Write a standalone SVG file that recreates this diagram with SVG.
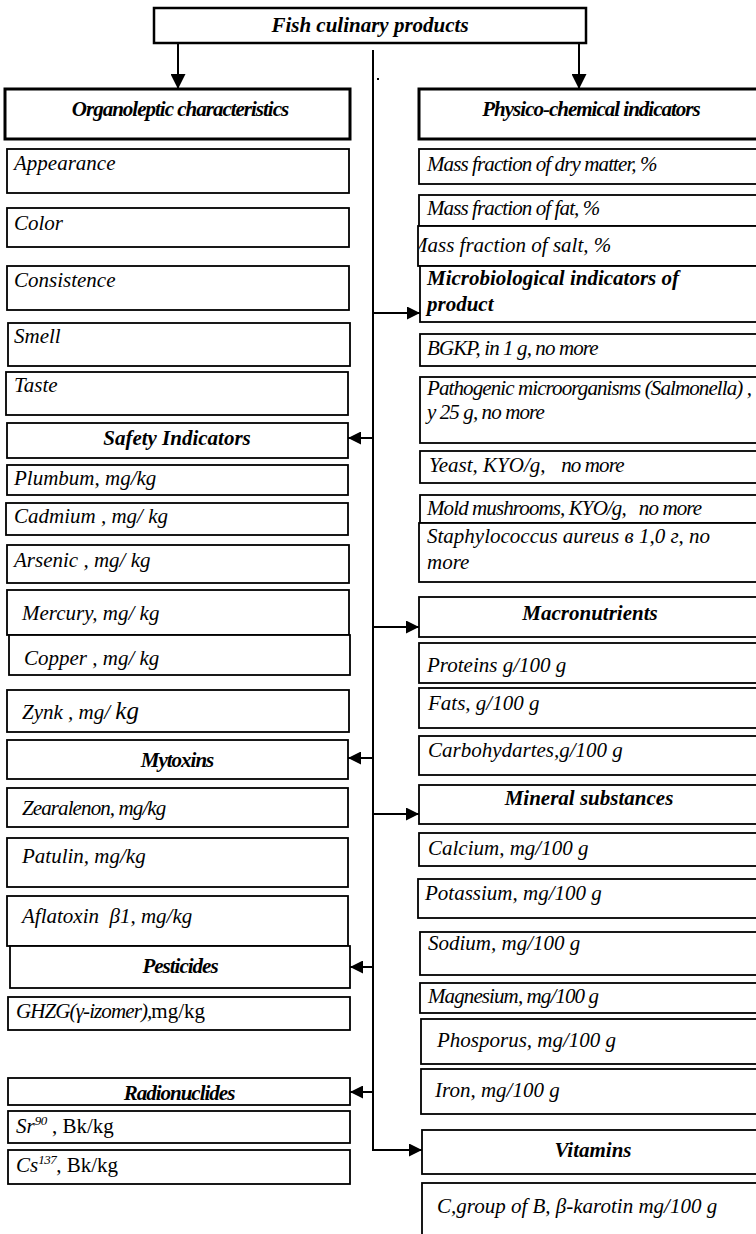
<svg xmlns="http://www.w3.org/2000/svg" width="756" height="1234" viewBox="0 0 756 1234">
  <style>
    .box { fill: #fff; stroke: #000; stroke-width: 1.8; }
    .hbox { fill: #fff; stroke: #000; stroke-width: 3; }
    .t { font-family: "Liberation Serif", "Times New Roman", serif; font-style: italic; font-size: 21px; fill: #000; }
    .b { font-weight: bold; text-anchor: middle; }
    .tight { letter-spacing: -1px; }
    .cond { letter-spacing: -0.9px; }
    .up { font-style: normal; }
    .conn { stroke: #000; stroke-width: 2; fill: none; }
    .arr { stroke: #000; stroke-width: 2; fill: none; marker-end: url(#ah); }
  </style>
  <defs>
    <marker id="ah" viewBox="0 0 10 10" refX="10" refY="5" markerWidth="15" markerHeight="13" markerUnits="userSpaceOnUse" orient="auto">
      <path d="M0,0 L10,5 L0,10 z" fill="#000"/>
    </marker>
    <marker id="ahd" viewBox="0 0 10 10" refX="10" refY="5" markerWidth="16" markerHeight="15" markerUnits="userSpaceOnUse" orient="auto">
      <path d="M0,0 L10,5 L0,10 z" fill="#000"/>
    </marker>
    <clipPath id="saltClip"><rect x="419" y="226" width="340" height="40"/></clipPath>
  </defs>

  <rect width="756" height="1234" fill="#fff"/>

  <!-- connectors -->
  <g id="connectors">
    <line class="conn" x1="178" y1="43" x2="178" y2="89" marker-end="url(#ahd)"/>
    <line class="conn" x1="579" y1="43" x2="579" y2="89" marker-end="url(#ahd)"/>
    <polyline class="conn" points="373,50 373,1150 422,1150" marker-end="url(#ah)"/>
    <line class="arr" x1="373" y1="313" x2="420" y2="313"/>
    <line class="arr" x1="373" y1="627" x2="419" y2="627"/>
    <line class="arr" x1="373" y1="814" x2="419" y2="814"/>
    <line class="arr" x1="373" y1="438" x2="348" y2="438"/>
    <line class="arr" x1="373" y1="758" x2="348" y2="758"/>
    <line class="arr" x1="373" y1="967" x2="350" y2="967"/>
    <line class="arr" x1="373" y1="1092" x2="350" y2="1092"/>
    <rect x="377" y="78" width="2" height="2" fill="#000"/>
  </g>

  <!-- root -->
  <g id="root">
    <rect class="box" x="154" y="8" width="432" height="35" style="stroke-width:2.5"/>
    <text class="t b" x="370" y="32">Fish culinary products</text>
  </g>

  <!-- left column -->
  <g id="organoleptic">
    <rect class="hbox" x="5" y="89" width="345" height="50"/>
    <text class="t b tight" x="180" y="116">Organoleptic characteristics</text>
  </g>
  <g id="appearance"><rect class="box" x="7" y="149" width="342" height="44"/><text class="t" x="14" y="170">Appearance</text></g>
  <g id="color"><rect class="box" x="7" y="208" width="342" height="39"/><text class="t" x="14" y="230">Color</text></g>
  <g id="consistence"><rect class="box" x="7" y="266" width="342" height="44"/><text class="t" x="14" y="287">Consistence</text></g>
  <g id="smell"><rect class="box" x="8" y="323" width="342" height="43"/><text class="t" x="14" y="343">Smell</text></g>
  <g id="taste"><rect class="box" x="6" y="372" width="342" height="43"/><text class="t" x="14" y="392">Taste</text></g>

  <g id="safety">
    <rect class="box" x="7" y="423" width="341" height="35"/>
    <text class="t b" x="177" y="445">Safety Indicators</text>
  </g>
  <g id="plumbum"><rect class="box" x="7" y="465" width="341" height="30"/><text class="t" x="14" y="485">Plumbum, mg/kg</text></g>
  <g id="cadmium"><rect class="box" x="6" y="503" width="342" height="32"/><text class="t" x="14" y="523">Cadmium , mg/ kg</text></g>
  <g id="arsenic"><rect class="box" x="7" y="545" width="342" height="38"/><text class="t" x="14" y="567">Arsenic , mg/ kg</text></g>
  <g id="mercury"><rect class="box" x="7" y="590" width="342" height="45"/><text class="t" x="22" y="620">Mercury, mg/ kg</text></g>
  <g id="copper"><rect class="box" x="9" y="635" width="341" height="40"/><text class="t" x="24" y="665">Copper , mg/ kg</text></g>
  <g id="zynk"><rect class="box" x="7" y="690" width="342" height="42"/><text class="t" x="22" y="719">Zynk , mg/ <tspan font-size="25">kg</tspan></text></g>

  <g id="mytoxins">
    <rect class="box" x="7" y="740" width="341" height="39"/>
    <text class="t b tight" x="177" y="767">Mytoxins</text>
  </g>
  <g id="zearalenon"><rect class="box" x="7" y="788" width="341" height="39"/><text class="t cond" x="22" y="815">Zearalenon, mg/kg</text></g>
  <g id="patulin"><rect class="box" x="7" y="838" width="341" height="49"/><text class="t" x="22" y="863">Patulin, mg/kg</text></g>
  <g id="aflatoxin"><rect class="box" x="7" y="896" width="341" height="50"/><text class="t" x="22" y="923" style="white-space:pre">Aflatoxin  β1, mg/kg</text></g>

  <g id="pesticides">
    <rect class="box" x="10" y="946" width="340" height="42"/>
    <text class="t b tight" x="180" y="973">Pesticides</text>
  </g>
  <g id="ghzg"><rect class="box" x="8" y="997" width="342" height="33"/><text class="t" x="16" y="1018"><tspan class="cond">GHZG(γ-izomer),</tspan><tspan class="up">mg/kg</tspan></text></g>

  <g id="radionuclides">
    <rect class="box" x="8" y="1078" width="342" height="27"/>
    <text class="t b tight" x="179" y="1100">Radionuclides</text>
  </g>
  <g id="sr90"><rect class="box" x="8" y="1111" width="342" height="32"/><text class="t" x="16" y="1133">Sr<tspan font-size="13" dy="-8" letter-spacing="-0.5">90</tspan><tspan class="up" dy="8"> , Bk/kg</tspan></text></g>
  <g id="cs137"><rect class="box" x="8" y="1150" width="342" height="34"/><text class="t" x="16" y="1172">Cs<tspan font-size="13" dy="-8" letter-spacing="-0.5">137</tspan><tspan class="up" dy="8">, Bk/kg</tspan></text></g>

  <!-- right column -->
  <g id="physico">
    <rect class="hbox" x="419" y="89" width="340" height="50"/>
    <text class="t b tight" x="591" y="116">Physico-chemical indicators</text>
  </g>
  <g id="dry-matter"><rect class="box" x="419" y="149" width="340" height="35"/><text class="t cond" x="427" y="171">Mass fraction of dry matter, %</text></g>
  <g id="fat"><rect class="box" x="419" y="195" width="340" height="31"/><text class="t cond" x="427" y="215">Mass fraction of fat, %</text></g>
  <g id="salt"><rect class="box" x="418" y="226" width="340" height="40"/><text class="t" x="410" y="252" clip-path="url(#saltClip)">Mass fraction of salt, %</text></g>

  <g id="microbiological">
    <rect class="box" x="420" y="266" width="340" height="56"/>
    <text class="t" font-weight="bold" x="427" y="285">Microbiological indicators of</text>
    <text class="t" font-weight="bold" x="427" y="311">product</text>
  </g>
  <g id="bgkp"><rect class="box" x="420" y="334" width="340" height="32"/><text class="t cond" x="427" y="355">BGKP, in 1 g, no more</text></g>
  <g id="pathogenic">
    <rect class="box" x="420" y="377" width="340" height="66"/>
    <text class="t cond" x="427" y="395">Pathogenic microorganisms (Salmonella) ,</text>
    <text class="t cond" x="427" y="419">у 25 g, no more</text>
  </g>
  <g id="yeast"><rect class="box" x="420" y="451" width="340" height="32"/><text class="t" x="429" y="472" style="white-space:pre">Yeast, KYO/g,   <tspan class="cond">no more</tspan></text></g>
  <g id="mold"><rect class="box" x="420" y="495" width="340" height="28"/><text class="t cond" x="427" y="515" style="white-space:pre">Mold mushrooms, KYO/g,   no more</text></g>
  <g id="staphylococcus">
    <rect class="box" x="419" y="523" width="340" height="59"/>
    <text class="t" x="427" y="543">Staphylococcus aureus в 1,0 г, no</text>
    <text class="t" x="427" y="569">more</text>
  </g>

  <g id="macronutrients">
    <rect class="box" x="419" y="597" width="340" height="40"/>
    <text class="t b" x="590" y="620">Macronutrients</text>
  </g>
  <g id="proteins"><rect class="box" x="419" y="643" width="340" height="40"/><text class="t" x="427" y="672">Proteins g/100 g</text></g>
  <g id="fats"><rect class="box" x="419" y="688" width="340" height="40"/><text class="t" x="428" y="710">Fats, g/100 g</text></g>
  <g id="carbohydrates"><rect class="box" x="419" y="736" width="340" height="39"/><text class="t" x="428" y="757">Carbohydartes,g/100 g</text></g>

  <g id="minerals">
    <rect class="box" x="419" y="785" width="340" height="39"/>
    <text class="t b" x="589" y="805">Mineral substances</text>
  </g>
  <g id="calcium"><rect class="box" x="419" y="833" width="340" height="33"/><text class="t" x="428" y="855">Calcium, mg/100 g</text></g>
  <g id="potassium"><rect class="box" x="418" y="879" width="340" height="39"/><text class="t" x="425" y="900">Potassium, mg/100 g</text></g>
  <g id="sodium"><rect class="box" x="420" y="932" width="340" height="43"/><text class="t" x="428" y="950">Sodium, mg/100 g</text></g>
  <g id="magnesium"><rect class="box" x="420" y="983" width="340" height="30"/><text class="t cond" x="428" y="1003">Magnesium, mg/100 g</text></g>
  <g id="phosphorus"><rect class="box" x="421" y="1019" width="340" height="45"/><text class="t" x="437" y="1047">Phosporus, mg/100 g</text></g>
  <g id="iron"><rect class="box" x="421" y="1069" width="340" height="45"/><text class="t" x="435" y="1097">Iron, mg/100 g</text></g>

  <g id="vitamins">
    <rect class="box" x="422" y="1130" width="340" height="44"/>
    <text class="t b" x="593" y="1157">Vitamins</text>
  </g>
  <g id="vitamin-list"><rect class="box" x="422" y="1183" width="340" height="60"/><text class="t" x="437" y="1213">C,group of B, β-karotin mg/100 g</text></g>
</svg>
